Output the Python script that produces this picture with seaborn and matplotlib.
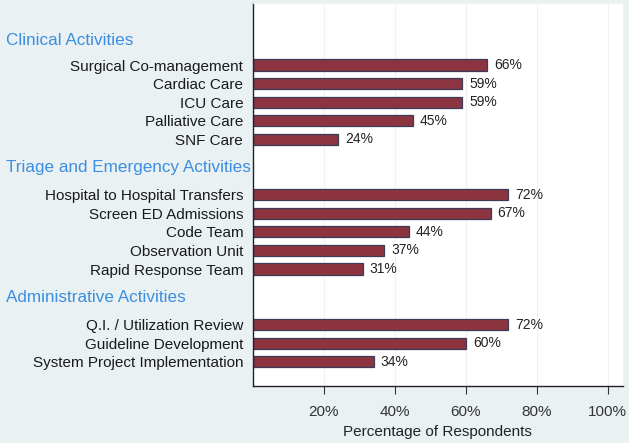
import pandas as pd
import matplotlib
matplotlib.use('Agg')
import matplotlib.pyplot as plt
import matplotlib.transforms as mtransforms
import seaborn as sns

# Chart data
labels = ["Surgical Co-management", "Cardiac Care", "ICU Care", "Palliative Care", "SNF Care",
          "Hospital to Hospital Transfers", "Screen ED Admissions", "Code Team",
          "Observation Unit", "Rapid Response Team",
          "Q.I. / Utilization Review", "Guideline Development", "System Project Implementation"]
values = [66, 59, 59, 45, 24, 72, 67, 44, 37, 31, 72, 60, 34]
groups = ["Clinical Activities", "Triage and Emergency Activities", "Administrative Activities"]
group_sizes = [5, 5, 3]
xticks = [20, 40, 60, 80, 100]

df = pd.DataFrame({'activity': labels, 'pct': values})

# row order with two blank spacer rows between groups
order = []
start = 0
for i, n in enumerate(group_sizes):
    order += labels[start:start + n]
    start += n
    if i < len(group_sizes) - 1:
        order += [' ' * (2 * i + 1), ' ' * (2 * i + 2)]

sns.set_style('white')
plt.rcParams['font.family'] = ['Liberation Sans', 'DejaVu Sans']

fig = plt.figure(figsize=(6.29, 4.43), dpi=100)
fig.patch.set_facecolor('#eaf1f3')
ax = fig.add_axes([0.402, 0.129, 0.588, 0.864])
ax.set_facecolor('white')

sns.barplot(data=df, x='pct', y='activity', order=order, orient='h',
            color='#8c3541', edgecolor='#3c3c58', linewidth=0.9,
            width=0.6, saturation=1, ax=ax)

ax.bar_label(ax.containers[0], fmt='%d%%', padding=5, fontsize=10, color='#222222')

ax.set_xlim(0, 104.2)
ax.set_ylim(17.3, -3.34)
ax.set_xticks(xticks)
ax.set_xticklabels([f'{t}%' for t in xticks], fontsize=11, color='#333333')
ax.tick_params(axis='x', direction='out', length=6, width=0.8, color='#333333', bottom=True, pad=8)
ax.tick_params(axis='y', length=0, labelsize=11, labelcolor='#1a1a1a', pad=7)
ax.grid(axis='x', color='#f0f0f0', linewidth=0.8)
ax.set_axisbelow(True)
ax.set_ylabel('')
ax.set_xlabel('Percentage of Respondents', fontsize=11, color='#222222', labelpad=4)

for side in ['top', 'right']:
    ax.spines[side].set_color('#f2f2f2')
for side in ['left', 'bottom']:
    ax.spines[side].set_color('#222222')
    ax.spines[side].set_linewidth(1.0)

# group headings in the left margin
trans = mtransforms.blended_transform_factory(fig.transFigure, ax.transData)
header_offsets = [-1.3, -1.5, -1.44]
pos = 0
for g, n, off in zip(groups, group_sizes, header_offsets):
    ax.text(6 / 629, pos + off, g, transform=trans,
            ha='left', va='center', fontsize=12.3, color='#3b8ee0', clip_on=False)
    pos += n + 2

fig.savefig('out.png', dpi=100, facecolor=fig.get_facecolor())
